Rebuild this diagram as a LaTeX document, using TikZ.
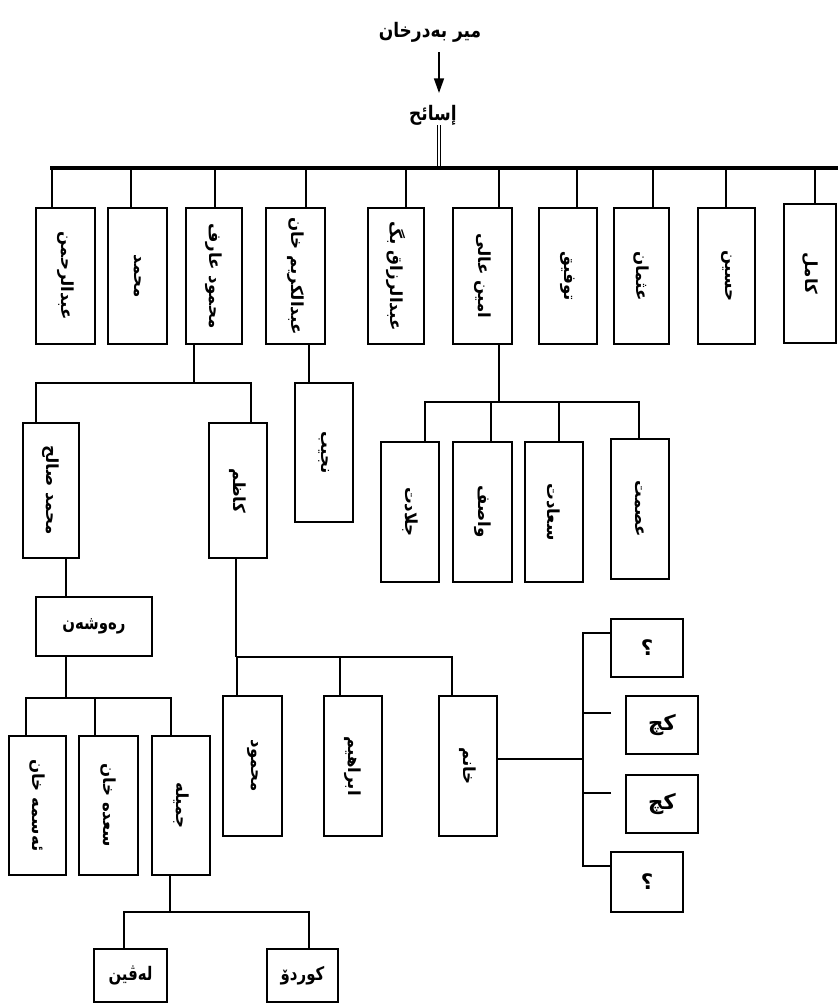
\documentclass[tikz,border=0pt]{standalone}
\usepackage{fontspec}
\newfontfamily\ar[Script=Arabic]{DejaVu Sans}
\TeXXeTstate=1
\usetikzlibrary{arrows.meta,calc}
\tikzset{
  box/.style={draw, line width=1.3pt, rectangle, inner sep=0pt, outer sep=0pt, fill=white},
  vtxt/.style={rotate=-90, inner sep=0pt, font=\ar\bfseries\fontsize{12.5}{14}\selectfont},
  htxt/.style={inner sep=0pt, xscale=0.8, font=\ar\bfseries\fontsize{14}{16}\selectfont},
  bigtxt/.style={inner sep=0pt, font=\ar\bfseries\fontsize{16}{18}\selectfont},
  ttl/.style={inner sep=0pt, xscale=0.85, font=\ar\bfseries\fontsize{15}{18}\selectfont},
  conn/.style={line width=1.3pt},
}
% name, x1, y1, x2, y2, text, text style
\newcommand\mybox[7]{%
  \node[box, minimum width={(#4-#2)*0.75pt}, minimum height={(#5-#3)*0.75pt}] (#1) at ({(#2+#4)/2},{(#3+#5)/2}) {};
  \node[#7] (#1t) at (#1.center) {#6};}
\begin{document}
\begin{tikzpicture}[x=0.75pt,y=-0.75pt]
\useasboundingbox (0,0) rectangle (838,1008);
% titles
\node[ttl] (t1) at (430,32) {\beginR میر بەدرخان\endR};
\node[ttl] (t2) at (433,115) {\beginR إسائح\endR};
\coordinate (ax) at (439,0);
\coordinate (barL) at (50,168);
\coordinate (barR) at (838,168);
\draw[line width=1.2pt, -{Triangle[length=11pt,width=7.5pt]}] (ax |- 0,52) -- (ax |- 0,93);
\draw[line width=0.8pt, double, double distance=1.6pt] (t2.south -| ax) -- (barL -| ax);
\draw[line width=2.6pt] (barL) -- (barR);
% top row
\mybox{b1}{36}{208}{95}{344}{\beginR عبدالرحمن\endR}{vtxt}
\mybox{b2}{108}{208}{167}{344}{\beginR محمد\endR}{vtxt}
\mybox{b3}{186}{208}{242}{344}{\beginR محمود عارف\endR}{vtxt}
\mybox{b4}{266}{208}{325}{344}{\beginR عبدالکریم خان\endR}{vtxt}
\mybox{b5}{368}{208}{424}{344}{\beginR عبدالرزاق بگ\endR}{vtxt}
\mybox{b6}{453}{208}{512}{344}{\beginR امین عالی\endR}{vtxt}
\mybox{b7}{539}{208}{597}{344}{\beginR توفیق\endR}{vtxt}
\mybox{b8}{614}{208}{669}{344}{\beginR عثمان\endR}{vtxt}
\mybox{b9}{698}{208}{755}{344}{\beginR حسین\endR}{vtxt}
\mybox{b10}{784}{204}{836}{343}{\beginR کامل\endR}{vtxt}
\draw[conn] (b1.north) ++(-13.5,0) -- ++(0,-40);
\draw[conn] (b2.north) ++(-6.5,0) -- ++(0,-40);
\draw[conn] (b3.north) ++(1,0) -- ++(0,-40);
\draw[conn] (b4.north) ++(10.5,0) -- ++(0,-40);
\draw[conn] (b5.north) ++(10,0) -- ++(0,-40);
\draw[conn] (b6.north) ++(16.5,0) -- ++(0,-40);
\draw[conn] (b7.north) ++(9,0) -- ++(0,-40);
\draw[conn] (b8.north) ++(11.5,0) -- ++(0,-40);
\draw[conn] (b9.north) ++(-0.5,0) -- ++(0,-40);
\draw[conn] (b10.north) ++(5,0) -- ++(0,-36);
% level 2
\mybox{c1}{23}{423}{79}{558}{\beginR محمد صالح\endR}{vtxt}
\mybox{c2}{209}{423}{267}{558}{\beginR کاظم\endR}{vtxt}
\mybox{d1}{295}{383}{353}{522}{\beginR نجیب\endR}{vtxt}
\mybox{e1}{381}{442}{439}{582}{\beginR جلادت\endR}{vtxt}
\mybox{e2}{453}{442}{512}{582}{\beginR واصف\endR}{vtxt}
\mybox{e3}{525}{442}{583}{582}{\beginR سعادت\endR}{vtxt}
\mybox{e4}{611}{439}{669}{579}{\beginR عصمت\endR}{vtxt}
\draw[conn] (b3.south) ++(-20,0) -- ++(0,39);
\draw[conn] (c1.north) ++(-15,0) -- ++(0,-40) -| ($(c2.north)+(13,0)$);
\draw[conn] (b4.south) ++(13.5,0) -- ++(0,39);
\draw[conn] (b6.south) ++(16.5,0) -- ++(0,58);
\draw[conn] (e1.north) ++(15,0) -- ++(0,-40) -| ($(e4.north)+(-1,0)$);
\draw[conn] (e2.north) ++(8.5,0) -- ++(0,-40);
\draw[conn] (e3.north) ++(5,0) -- ++(0,-40);
% left branch
\mybox{f}{36}{597}{152}{656}{\beginR رەوشەن\endR}{htxt}
\draw[conn] (c1.south) ++(15,0) -- ++(0,39);
\mybox{g1}{9}{736}{66}{875}{\beginR ئەسمە خان\endR}{vtxt}
\mybox{g2}{79}{736}{138}{875}{\beginR سعدە خان\endR}{vtxt}
\mybox{g3}{152}{736}{210}{875}{\beginR جمیلە\endR}{vtxt}
\draw[conn] (f.south) ++(-28,0) -- ++(0,42);
\draw[conn] (g1.north) ++(-11.5,0) -- ++(0,-38) -| ($(g3.north)+(-10,0)$);
\draw[conn] (g2.north) ++(-13.5,0) -- ++(0,-38);
\mybox{h1}{94}{949}{167}{1002}{\beginR لەڤین\endR}{htxt}
\mybox{h2}{267}{949}{338}{1002}{\beginR کوردۆ\endR}{htxt}
\draw[conn] (g3.south) ++(-11,0) -- ++(0,37);
\draw[conn] (h1.north) ++(-6.5,0) -- ++(0,-37) -| ($(h2.north)+(6.5,0)$);
% middle branch
\mybox{k1}{223}{696}{282}{836}{\beginR محمود\endR}{vtxt}
\mybox{k2}{324}{696}{382}{836}{\beginR ابراهیم\endR}{vtxt}
\mybox{k3}{439}{696}{497}{836}{\beginR خانم\endR}{vtxt}
\draw[conn] (c2.south) ++(-2,0) -- ++(0,99);
\draw[conn] (k1.north) ++(-15.5,0) -- ++(0,-39) -| ($(k3.north)+(-16,0)$);
\draw[conn] (k2.north) ++(-13,0) -- ++(0,-39);
% right side
\mybox{m1}{611}{619}{683}{677}{\beginR ؟\endR}{bigtxt}
\mybox{m2}{626}{696}{698}{754}{\beginR کچ\endR}{bigtxt}
\mybox{m3}{626}{775}{698}{833}{\beginR کچ\endR}{bigtxt}
\mybox{m4}{611}{852}{683}{912}{\beginR ؟\endR}{bigtxt}
\draw[conn] (k3.east) ++(0,-7) -- ++(86,0);
\draw[conn] ($(m1.west)+(0,-15)$) -- ++(-28,0) |- ($(m4.west)+(0,-16)$);
\draw[conn] ($(m2.west)+(-15,-12)$) -- ++(-28,0);
\draw[conn] ($(m3.west)+(-15,-11)$) -- ++(-28,0);
\end{tikzpicture}
\end{document}
